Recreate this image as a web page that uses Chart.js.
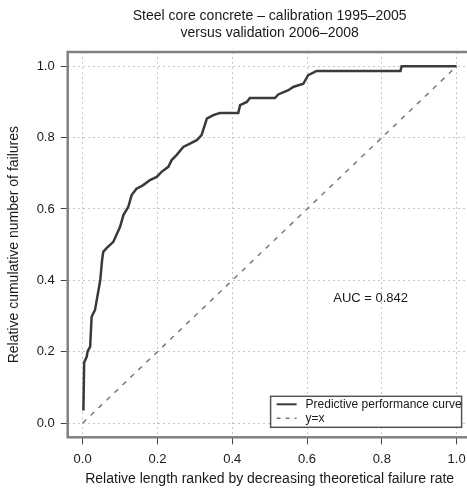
<!DOCTYPE html>
<html>
<head>
<meta charset="utf-8">
<script src="https://cdn.jsdelivr.net/npm/chart.js@4.4.0/dist/chart.umd.min.js"></script>
<style>
  html, body { margin: 0; padding: 0; background: #fff; overflow: hidden; width: 467px; height: 489px; }
  canvas { display: block; }
</style>
</head>
<body>
<canvas id="roc" width="475" height="489"></canvas>
<script>
// ---- data ----
const curveX = [0.002, 0.004, 0.011, 0.013, 0.020, 0.024, 0.033, 0.047, 0.052, 0.055, 0.064,
                0.082, 0.086, 0.100, 0.109, 0.122, 0.131, 0.144, 0.162, 0.180, 0.198, 0.211,
                0.229, 0.238, 0.251, 0.269, 0.287, 0.305, 0.318, 0.332, 0.349, 0.367, 0.416,
                0.421, 0.439, 0.447, 0.514, 0.523, 0.550, 0.563, 0.590, 0.603, 0.626, 0.850,
                0.853, 1.000];
const curveY = [0.035, 0.170, 0.186, 0.200, 0.214, 0.298, 0.317, 0.400, 0.457, 0.480, 0.490,
                0.508, 0.517, 0.550, 0.583, 0.606, 0.639, 0.657, 0.667, 0.681, 0.690, 0.704,
                0.718, 0.737, 0.751, 0.774, 0.783, 0.793, 0.807, 0.853, 0.863, 0.869, 0.869,
                0.891, 0.900, 0.911, 0.911, 0.921, 0.933, 0.942, 0.951, 0.975, 0.987, 0.987,
                1.000, 1.000];
const diagX = [0, 1];
const diagY = [0, 1];
const tickValues = [0, 0.2, 0.4, 0.6, 0.8, 1.0];
const titleLines = ['Steel core concrete \u2013 calibration 1995\u20132005', 'versus validation 2006\u20132008'];
const seriesLabels = ['Predictive performance curve', 'y=x'];
const aucText = 'AUC = 0.842';

const FONT = '"Liberation Sans", Arial, sans-serif';
Chart.defaults.font.family = FONT;
Chart.defaults.color = '#1a1a1a';

const pts = (xs, ys) => xs.map((x, i) => ({ x, y: ys[i] }));

// box, title, AUC note and legend drawn on top of the chart
const extras = {
  id: 'extras',
  afterDraw(chart) {
    const { ctx, chartArea: a, scales } = chart;
    ctx.save();
    ctx.strokeStyle = '#808080';
    ctx.lineWidth = 2.5;
    ctx.strokeRect(a.left, a.top, a.right - a.left, a.bottom - a.top);

    ctx.fillStyle = '#1a1a1a';
    ctx.textAlign = 'center';
    ctx.textBaseline = 'middle';
    ctx.font = '14px ' + FONT;
    const cx = (a.left + a.right) / 2;
    titleLines.forEach((t, i) => ctx.fillText(t, cx, 16 + i * 17.5));

    ctx.font = '13px ' + FONT;
    ctx.fillText(aucText, scales.x.getPixelForValue(0.77), scales.y.getPixelForValue(0.35));

    // legend box
    const lx = a.right - 201, ly = a.bottom - 41, lw = 191, lh = 31;
    ctx.fillStyle = '#fff';
    ctx.fillRect(lx, ly, lw, lh);
    ctx.strokeStyle = '#555';
    ctx.lineWidth = 1.5;
    ctx.strokeRect(lx, ly, lw, lh);
    ctx.font = '12px ' + FONT;
    ctx.textAlign = 'left';
    ctx.fillStyle = '#1a1a1a';
    chart.data.datasets.forEach((ds, i) => {
      const yy = ly + 8 + i * 14;
      ctx.beginPath();
      ctx.strokeStyle = ds.borderColor;
      ctx.lineWidth = i === 0 ? 2 : 1.5;
      ctx.setLineDash(i === 0 ? [] : [4, 5]);
      ctx.moveTo(lx + 6, yy);
      ctx.lineTo(lx + 26, yy);
      ctx.stroke();
      ctx.setLineDash([]);
      ctx.fillText(ds.label, lx + 35, yy);
    });
    ctx.restore();
  }
};

const axisCommon = {
  type: 'linear',
  min: -0.04,
  max: 1.04,
  afterBuildTicks: s => { s.ticks = tickValues.map(v => ({ value: v })); },
  grid: { color: '#c6c6c6', lineWidth: 1, tickLength: 7, tickColor: '#444', tickWidth: 1, tickBorderDash: [] },
  border: { display: false, dash: [2, 3] },
};

new Chart(document.getElementById('roc'), {
  type: 'line',
  data: {
    datasets: [
      { label: seriesLabels[0], data: pts(curveX, curveY), borderColor: '#3a3a3a', borderWidth: 2.5,
        pointRadius: 0, tension: 0, fill: false },
      { label: seriesLabels[1], data: pts(diagX, diagY), borderColor: '#7a7a7a', borderWidth: 1.5,
        borderDash: [5, 6], pointRadius: 0, tension: 0, fill: false },
    ]
  },
  options: {
    responsive: false,
    animation: false,
    layout: { padding: { top: 52, right: 3.4, left: 0, bottom: 0 } },
    plugins: { legend: { display: false }, title: { display: false }, tooltip: { enabled: false } },
    scales: {
      x: {
        ...axisCommon,
        afterFit: s => { s.height = 51.7; },
        ticks: { font: { size: 13 }, padding: 7, maxRotation: 0, callback: v => v.toFixed(1) },
        title: { display: true, text: 'Relative length ranked by decreasing theoretical failure rate',
                 font: { size: 14 }, padding: { top: 0, bottom: 1.6 } },
      },
      y: {
        ...axisCommon,
        afterFit: s => { s.width = 67.7; },
        ticks: { font: { size: 13 }, padding: 6, callback: v => v.toFixed(1) },
        title: { display: true, text: 'Relative cumulative number of failures',
                 font: { size: 14 }, padding: { top: 5.6, bottom: 0 } },
      },
    }
  },
  plugins: [extras]
});
</script>
</body>
</html>
